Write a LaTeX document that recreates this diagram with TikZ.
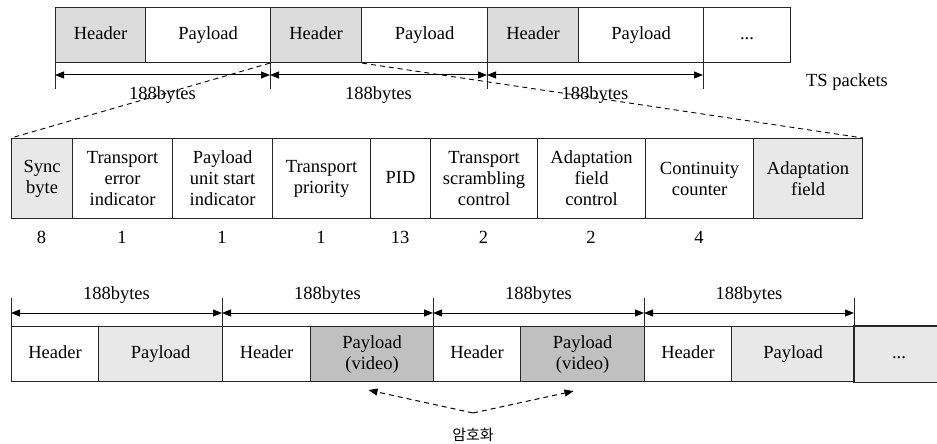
\documentclass[tikz,border=0pt]{standalone}
\usepackage{fontspec}
\setmainfont{Liberation Serif}
\newfontfamily\krfont{Noto Sans CJK KR}
\usetikzlibrary{arrows.meta}
\definecolor{hdrgray}{HTML}{DCDCDC}
\definecolor{lightgray}{HTML}{E8E8E8}
\definecolor{videogray}{HTML}{C0C0C0}
\begin{document}
\begin{tikzpicture}[x=1pt,y=-1pt,
  cell/.style={draw=black!85, line width=1.1pt, inner sep=0pt, anchor=north west,
    align=center, font=\fontsize{18.5}{21}\selectfont},
  oneline/.style={text height=13pt, text depth=4pt},
  lbl/.style={font=\fontsize{18.5}{21}\selectfont, inner sep=0pt},
  tick/.style={line width=0.8pt, black!85},
  dimarrow/.style={line width=1pt, {Triangle[length=9pt,width=7pt]}-{Triangle[length=9pt,width=7pt]}},
  zoomline/.style={line width=0.9pt, dash pattern=on 5pt off 4pt},
  encarrow/.style={line width=1pt, dash pattern=on 5pt off 4pt, -{Triangle[length=9pt,width=7pt]}}]
\useasboundingbox (0,0) rectangle (937,444);

% ---- top row: TS packet stream ----
\node[cell, oneline, fill=hdrgray, minimum width=90pt,  minimum height=55pt] (th1) at (55,7)  {Header};
\node[cell, oneline, minimum width=125pt, minimum height=55pt] (tp1) at (145,7) {Payload};
\node[cell, oneline, fill=hdrgray, minimum width=91pt,  minimum height=55pt] (th2) at (270,7) {Header};
\node[cell, oneline, minimum width=126pt, minimum height=55pt] (tp2) at (361,7) {Payload};
\node[cell, oneline, fill=hdrgray, minimum width=91pt,  minimum height=55pt] (th3) at (487,7) {Header};
\node[cell, oneline, minimum width=125pt, minimum height=55pt] (tp3) at (578,7) {Payload};
\node[cell, oneline, minimum width=87pt,  minimum height=55pt] (tdots) at (703,7) {...};

% packet length markers
\foreach \x [count=\i] in {55,270,487,703} {
  \draw[tick] (\x,62) -- (\x,89);
  \coordinate (ta\i) at (\x,75);
}
\draw[dimarrow] (ta1) -- (ta2);
\draw[dimarrow] (ta2) -- (ta3);
\draw[dimarrow] (ta3) -- (ta4);
\node[lbl] (tl1) at (162.5,95) {188bytes};
\node[lbl] (tl2) at (378.5,95) {188bytes};
\node[lbl] (tl3) at (595,95) {188bytes};
\node[lbl] (tslabel) at (847,82) {TS packets};

% ---- middle row: header fields ----
\node[cell, fill=lightgray, minimum width=61pt,  minimum height=80pt] (sync) at (11,138) {Sync\\byte};
\node[cell, minimum width=100pt, minimum height=80pt] (tei)  at (72,138)  {Transport\\error\\indicator};
\node[cell, minimum width=100pt, minimum height=80pt] (pusi) at (172,138) {Payload\\unit start\\indicator};
\node[cell, minimum width=98pt,  minimum height=80pt] (tpr)  at (272,138) {Transport\\priority};
\node[cell, oneline, minimum width=60pt,  minimum height=80pt] (pid)  at (370,138) {PID};
\node[cell, minimum width=107pt, minimum height=80pt] (tsc)  at (430,138) {Transport\\scrambling\\control};
\node[cell, minimum width=108pt, minimum height=80pt] (afc)  at (537,138) {Adaptation\\field\\control};
\node[cell, minimum width=108pt, minimum height=80pt] (cc)   at (645,138) {Continuity\\counter};
\node[cell, fill=lightgray, minimum width=109pt, minimum height=80pt] (af) at (753,138) {Adaptation\\field};

% field widths in bits
\node[lbl] (b1) at (41.5,237) {8};
\node[lbl] (b2) at (122,237) {1};
\node[lbl] (b3) at (222,237) {1};
\node[lbl] (b4) at (321,237) {1};
\node[lbl] (b5) at (400,237) {13};
\node[lbl] (b6) at (483.5,237) {2};
\node[lbl] (b7) at (591,237) {2};
\node[lbl] (b8) at (699,237) {4};

% header expansion
\draw[zoomline] (th2.south west) -- (sync.north west);
\draw[zoomline] (th2.south east) -- (af.north east);

% ---- bottom row: scrambled stream ----
\node[cell, oneline, minimum width=87pt,  minimum height=55pt] (bh1) at (11,326)  {Header};
\node[cell, oneline, fill=lightgray, minimum width=124pt, minimum height=55pt] (bp1) at (98,326) {Payload};
\node[cell, oneline, minimum width=88pt,  minimum height=55pt] (bh2) at (222,326) {Header};
\node[cell, fill=videogray, minimum width=123pt, minimum height=55pt] (bv1) at (310,326) {Payload\\(video)};
\node[cell, oneline, minimum width=87pt,  minimum height=55pt] (bh3) at (433,326) {Header};
\node[cell, fill=videogray, minimum width=124pt, minimum height=55pt] (bv2) at (520,326) {Payload\\(video)};
\node[cell, oneline, minimum width=87pt,  minimum height=55pt] (bh4) at (644,326) {Header};
\node[cell, oneline, fill=lightgray, minimum width=123pt, minimum height=55pt] (bp4) at (731,326) {Payload};
\node[cell, oneline, fill=lightgray, draw=none, minimum width=83pt, minimum height=55pt] (bdots) at (854,326) {\hspace*{6pt}...};
\draw[line width=1.1pt, black!85] (bdots.north east) -- (bdots.north west) -- (bdots.south west) -- (bdots.south east);

\foreach \x [count=\i] in {11,222,433,644,854} {
  \draw[tick] (\x,298) -- (\x,326);
  \coordinate (ba\i) at (\x,313);
}
\draw[dimarrow] (ba1) -- (ba2);
\draw[dimarrow] (ba2) -- (ba3);
\draw[dimarrow] (ba3) -- (ba4);
\draw[dimarrow] (ba4) -- (ba5);
\node[lbl] (bl1) at (116.5,295) {188bytes};
\node[lbl] (bl2) at (327.5,295) {188bytes};
\node[lbl] (bl3) at (538.5,295) {188bytes};
\node[lbl] (bl4) at (749,295) {188bytes};

% encryption marker
\coordinate (enc) at (473,413);
\draw[encarrow] (enc) -- ([shift={(-3.5,8)}]bv1.south);
\draw[encarrow] (enc) -- ([shift={(-9,9)}]bv2.south);
\node[inner sep=0pt, font=\krfont\fontsize{15}{17}\selectfont] (enclabel) at (473,435) {암호화};
\end{tikzpicture}
\end{document}
